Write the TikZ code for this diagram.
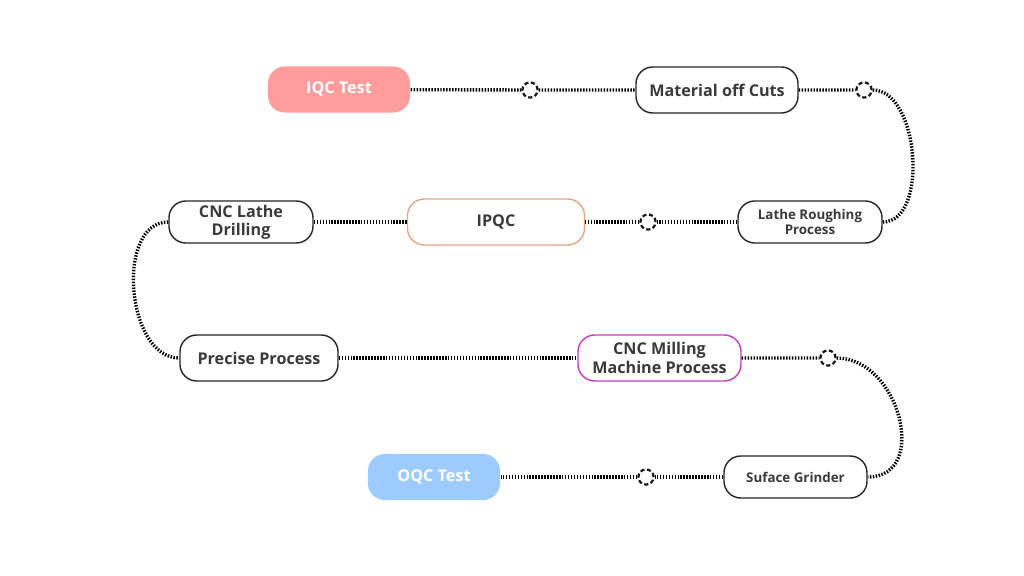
\documentclass[tikz,border=0pt]{standalone}
\usepackage{fontspec}
\setmainfont{Open Sans}
\definecolor{iqcred}{HTML}{FF9C9C}
\definecolor{oqcblue}{HTML}{9DCBFF}
\definecolor{ipqcpeach}{HTML}{E2A585}
\definecolor{millpink}{HTML}{C43CC4}
\definecolor{txtgray}{HTML}{3A3A3A}
\begin{document}
\begin{tikzpicture}
    [x=0.025cm,y=-0.025cm,
    proc/.style={rectangle,rounded corners=0.42cm,draw=black!85,fill=white,line width=1pt,
        font=\bfseries\fontsize{11.5}{13}\selectfont,text=txtgray,align=center,inner sep=0pt,
        minimum height=1.15cm},
    small/.style={proc,font=\bfseries\fontsize{9.5}{11}\selectfont,minimum height=1.05cm},
    test/.style={proc,draw=none,text=white},
    knot/.style={circle,draw=black!90,fill=white,line width=1.6pt,dash pattern=on 3pt off 1.8pt,
        minimum size=0.38cm,inner sep=0pt},
    link/.style={black,line width=2.4pt,dash pattern=on 1.05pt off 1.05pt}]

    \useasboundingbox (0,0) rectangle (1024,576);

    % row 1
    \node[test,fill=iqcred,minimum width=3.55cm] (iqc) at (339,89.5) {IQC Test};
    \node[proc,minimum width=4.05cm] (mat) at (717,90) {Material off Cuts};
    \node[knot] (k1) at (530,90) {};
    \node[knot] (k2) at (864,90) {};

    % row 2
    \node[small,minimum width=3.6cm] (lrp) at (810,222) {Lathe Roughing\\Process};
    \node[proc,draw=ipqcpeach,minimum width=4.425cm] (ipqc) at (496,222) {IPQC};
    \node[proc,minimum width=3.6cm,minimum height=1.05cm] (cld) at (241,222) {CNC Lathe\\Drilling};
    \node[knot] (k3) at (648,222) {};

    % row 3
    \node[proc,minimum width=3.95cm] (pp) at (259,358) {Precise Process};
    \node[proc,draw=millpink,minimum width=4.075cm] (cmm) at (659.5,358) {CNC Milling\\Machine Process};
    \node[knot] (k4) at (828,358) {};

    % row 4
    \node[small,minimum width=3.575cm] (sg) at (795.5,477) {Suface Grinder};
    \node[test,fill=oqcblue,minimum width=3.3cm] (oqc) at (434,477) {OQC Test};
    \node[knot] (k5) at (646,477) {};

    \draw[link] (iqc) -- (k1) -- (mat);
    \draw[link] (mat) -- (k2) to[out=0,in=0,looseness=0.9] (lrp);
    \draw[link] (lrp) -- (k3) -- (ipqc);
    \draw[link] (ipqc) -- (cld);
    \draw[link] (cld) to[out=180,in=180] (pp);
    \draw[link] (pp) -- (cmm);
    \draw[link] (cmm) -- (k4) to[out=0,in=0,looseness=1.3] (sg);
    \draw[link] (sg) -- (k5) -- (oqc);
\end{tikzpicture}
\end{document}
